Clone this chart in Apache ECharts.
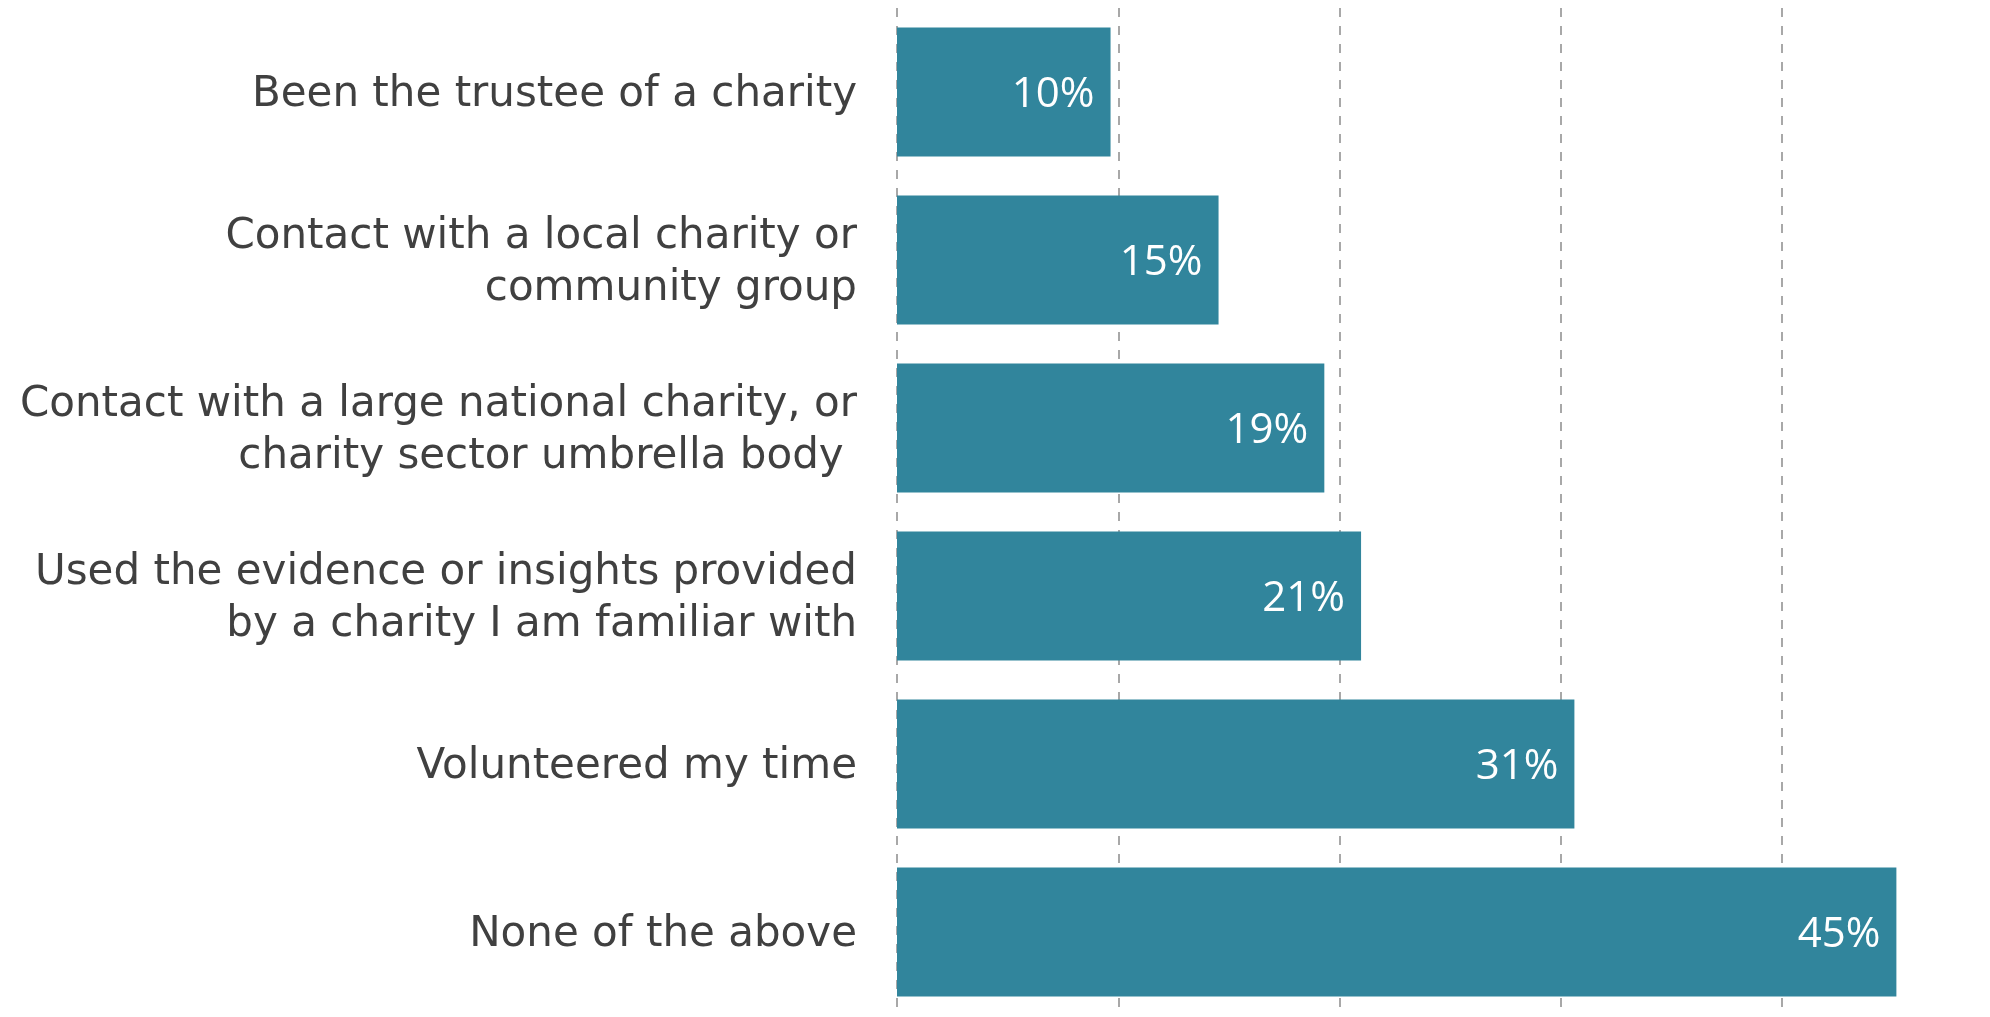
<!DOCTYPE html>
<html>
<head>
<meta charset="utf-8">
<script src="https://cdn.jsdelivr.net/npm/echarts@6/dist/echarts.min.js"></script>
<style>
html,body{margin:0;padding:0;background:#fff;}
#chart{width:1990px;height:1017px;}
</style>
</head>
<body>
<div id="chart"></div>
<script>
const categories = [
  "Been the trustee of a charity",
  "Contact with a local charity or\ncommunity group",
  "Contact with a large national charity, or\ncharity sector umbrella body ",
  "Used the evidence or insights provided\nby a charity I am familiar with",
  "Volunteered my time",
  "None of the above"
];
const values = [9.65, 14.53, 19.31, 20.97, 30.61, 45.16];

const chart = echarts.init(document.getElementById('chart'));
chart.setOption({
  animation: false,
  backgroundColor: '#ffffff',
  grid: { left: 897, top: 8, right: 0, height: 1008, containLabel: false },
  xAxis: {
    type: 'value', min: 0, max: 49.39, interval: 10,
    axisLabel: { show: false },
    axisLine: { show: false },
    axisTick: { show: false },
    splitLine: { show: true, showMinLine: true, showMaxLine: false,
      lineStyle: { color: '#a8a8a8', width: 2, type: [9, 9] } }
  },
  yAxis: {
    type: 'category', data: categories, inverse: true,
    axisLine: { show: false }, axisTick: { show: false },
    axisLabel: { margin: 40, color: '#404040', fontSize: 42, fontFamily: "'DejaVu Sans', sans-serif",
      lineHeight: 52, align: 'right',
      formatter: v => '{pad|}\n' + v,
      rich: { pad: { height: 6, lineHeight: 6, fontSize: 4 } } }
  },
  series: [{
    type: 'bar', data: values, barCategoryGap: '23.2%',
    itemStyle: { color: '#31859C' },
    label: { show: true, position: 'insideRight', distance: 16, color: '#ffffff',
      fontSize: 42, fontFamily: "'Open Sans', sans-serif", offset: [0, 3],
      formatter: p => Math.round(p.value) + '%' }
  }]
});
</script>
</body>
</html>
